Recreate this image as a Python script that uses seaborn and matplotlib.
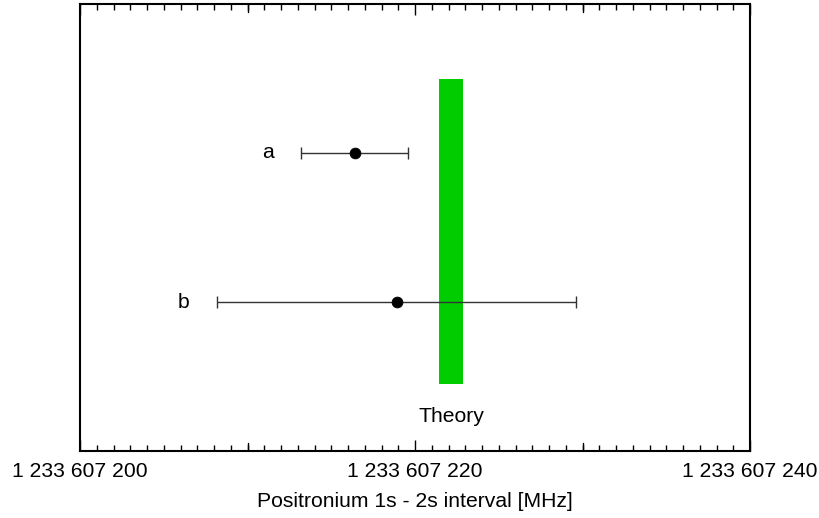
"""
Positronium 1s-2s interval: two measurements against the theory band.
"""
import numpy as np
import pandas as pd
import matplotlib
matplotlib.use("Agg")
import matplotlib.pyplot as plt
import seaborn as sns
from matplotlib.ticker import MultipleLocator, FuncFormatter

# ---------------- Data (MHz) ----------------
labels = ["a", "b"]
values = [1233607216.4, 1233607218.9]
errors = [3.2, 10.7]
rows = [4, 2]

theory_low = 1233607221.45
theory_high = 1233607222.85
theory_rows = [0.9, 5.0]

x_min, x_max = 1233607200, 1233607240

df = pd.DataFrame({"label": labels, "value": values, "err": errors, "row": rows})

# ---------------- Plot ----------------
sns.set_theme(style="white")
plt.rcParams["font.family"] = ["Liberation Sans", "DejaVu Sans"]
plt.rcParams["text.color"] = "black"
plt.rcParams["axes.labelcolor"] = "black"
plt.rcParams["xtick.color"] = "black"

FS = 15.2

fig = plt.figure(figsize=(8.19, 5.18), dpi=100)
ax = fig.add_axes([80 / 819, 1 - 451 / 518, 670 / 819, 447 / 518])

ax.fill_betweenx(theory_rows, theory_low, theory_high, color="#00cc00", lw=0)

ax.errorbar(df["value"], df["row"], xerr=df["err"], fmt="none",
            ecolor="#333333", elinewidth=1, capsize=4, capthick=1)
sns.scatterplot(data=df, x="value", y="row", color="black", s=60,
                edgecolor="black", ax=ax, zorder=3, legend=False)

for _, r in df.iterrows():
    ax.text(r["value"] - r["err"] - 2.0, r["row"], r["label"],
            ha="center", va="center", fontsize=FS)

ax.text((theory_low + theory_high) / 2, 0.46, "Theory",
        ha="center", va="center", fontsize=FS)

ax.set_xlim(x_min, x_max)
ax.set_ylim(0, 6)
ax.set_yticks([])

ax.xaxis.set_major_locator(MultipleLocator(20))
ax.xaxis.set_minor_locator(MultipleLocator(1))
ax.xaxis.set_major_formatter(
    FuncFormatter(lambda v, p: f"{int(round(v)):,}".replace(",", " ")))
ax.tick_params(axis="x", which="both", direction="in", top=True, bottom=True,
               color="black", width=1, labelsize=FS, pad=8)
ax.tick_params(axis="x", which="major", length=8)
ax.tick_params(axis="x", which="minor", length=4)

# medium ticks every 10 MHz
for xv in np.arange(x_min + 10, x_max, 20):
    ax.axvline(xv, ymin=0, ymax=8 / 447, color="black", lw=1)
    ax.axvline(xv, ymin=1 - 8 / 447, ymax=1, color="black", lw=1)

for s in ax.spines.values():
    s.set_color("black")
    s.set_linewidth(1.5)

ax.set_xlabel("Positronium 1s - 2s interval [MHz]", fontsize=FS, labelpad=8)
ax.set_ylabel("")

fig.savefig("out.png", dpi=100)
